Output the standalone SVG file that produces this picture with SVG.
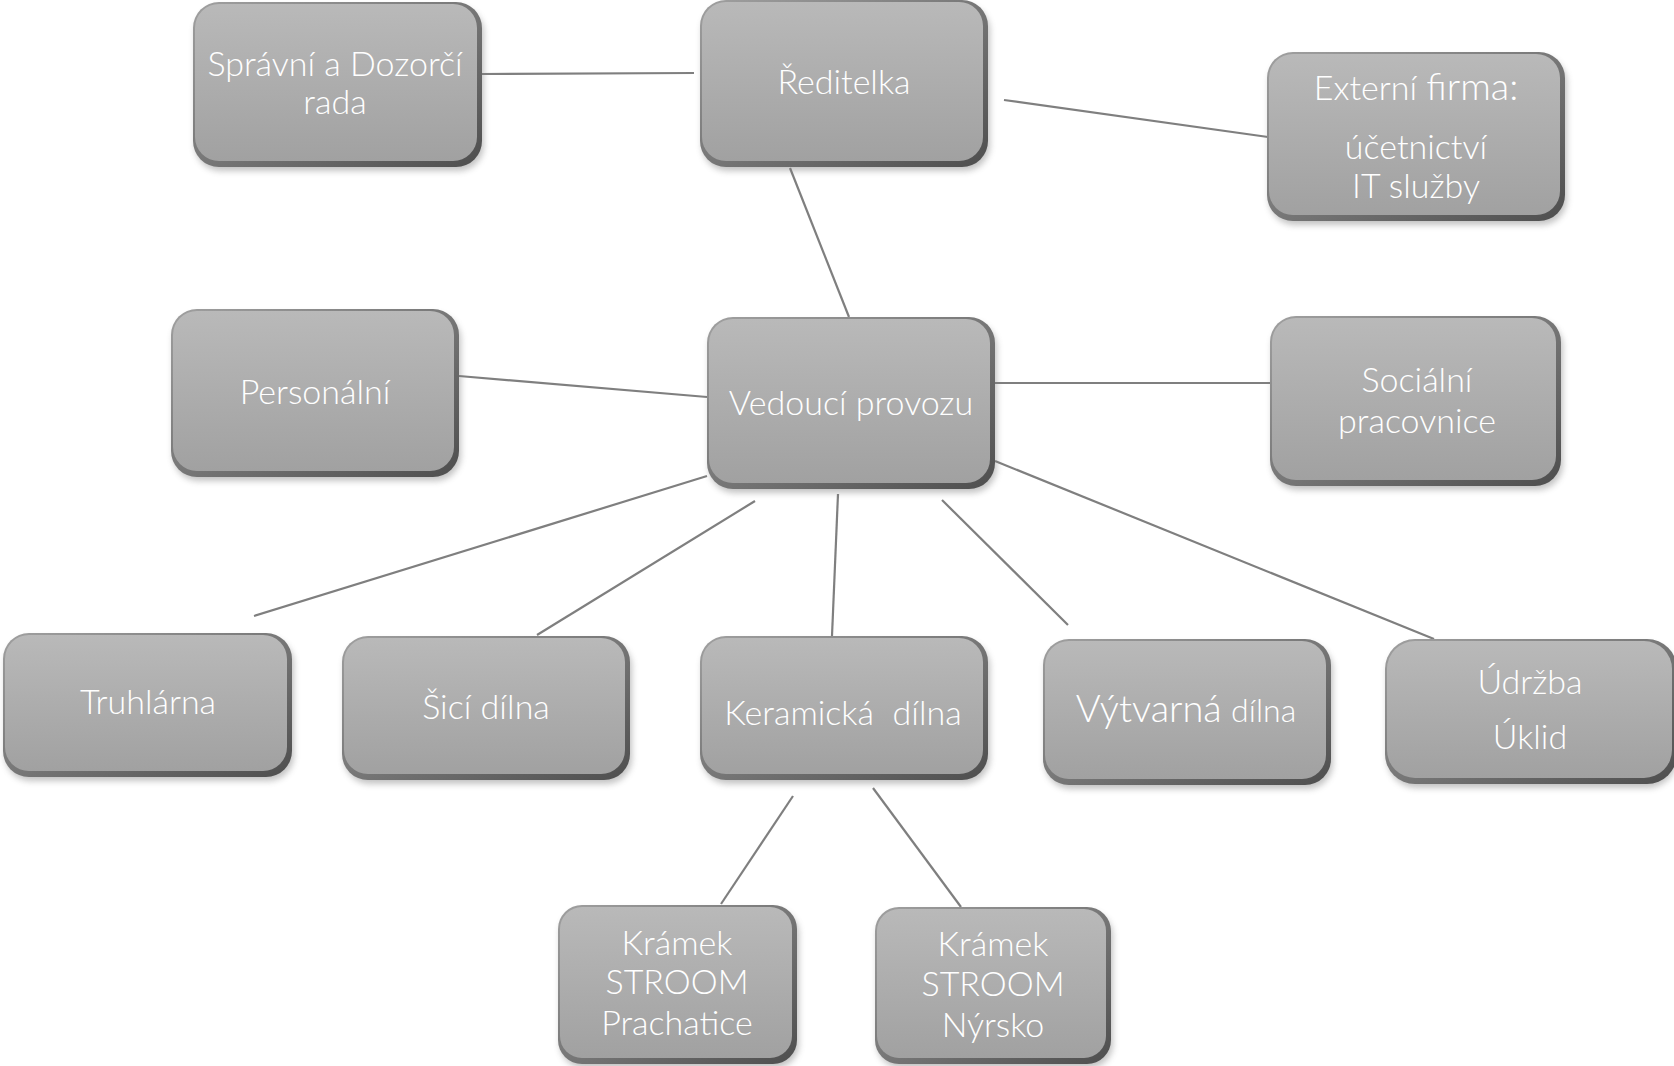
<svg xmlns="http://www.w3.org/2000/svg" width="1674" height="1066" viewBox="0 0 1674 1066">
<defs>
<linearGradient id="gFace" x1="0" y1="0" x2="0" y2="1">
<stop offset="0" stop-color="#b9b9b9"/>
<stop offset="1" stop-color="#a1a1a1"/>
</linearGradient>
<linearGradient id="gEdge" x1="0" y1="0" x2="1" y2="1">
<stop offset="0" stop-color="#a0a0a0"/>
<stop offset="1" stop-color="#4e4e4e"/>
</linearGradient>
<filter id="fSh" x="-10%" y="-10%" width="120%" height="130%"><feGaussianBlur stdDeviation="3"/></filter>
<filter id="fHl" x="-10%" y="-100%" width="120%" height="300%"><feGaussianBlur stdDeviation="1.2"/></filter>
</defs>
<style>
.sh{fill:#7a7a7a;opacity:.45;filter:url(#fSh)}
.edge{fill:url(#gEdge)}
.face{fill:url(#gFace)}
.hl{stroke:#ffffff;stroke-width:3;opacity:.75;fill:none;stroke-linecap:round;filter:url(#fHl)}
.t{fill:#ffffff;font-family:Lato,"Open Sans","DejaVu Sans",sans-serif;font-size:34px;font-weight:300;text-anchor:middle}
.c{stroke:#7f7f7f;stroke-width:2.2;fill:none}
</style>
<g id="connectors">
<line class="c" x1="482" y1="74" x2="694" y2="73"/>
<line class="c" x1="1004" y1="100" x2="1268" y2="137"/>
<line class="c" x1="790" y1="168" x2="849" y2="317"/>
<line class="c" x1="459" y1="376" x2="707" y2="397"/>
<line class="c" x1="995" y1="383" x2="1270" y2="383"/>
<line class="c" x1="707" y1="476" x2="254" y2="616"/>
<line class="c" x1="755" y1="501" x2="537" y2="635"/>
<line class="c" x1="838" y1="494" x2="832" y2="636"/>
<line class="c" x1="942" y1="500" x2="1068" y2="625"/>
<line class="c" x1="995" y1="461" x2="1434" y2="639"/>
<line class="c" x1="793" y1="796" x2="721" y2="904"/>
<line class="c" x1="873" y1="788" x2="961" y2="907"/>
</g>
<g id="n-sprava">
<rect class="sh" x="195" y="7" width="289" height="164" rx="26"/>
<rect class="edge" x="193" y="2" width="289" height="165" rx="26"/>
<rect class="face" x="195" y="4" width="282" height="157" rx="24"/>
<path class="hl" d="M218 12 H457"/>
<text class="t" x="335" y="76">Správní a Dozorčí</text>
<text class="t" x="335" y="114">rada</text>
</g>
<g id="n-reditelka">
<rect class="sh" x="702" y="5" width="288" height="166" rx="26"/>
<rect class="edge" x="700" y="0" width="288" height="167" rx="26"/>
<rect class="face" x="702" y="2" width="281" height="159" rx="24"/>
<path class="hl" d="M725 10 H963"/>
<text class="t" x="844" y="94">Ředitelka</text>
</g>
<g id="n-externi">
<rect class="sh" x="1269" y="57" width="298" height="168" rx="26"/>
<rect class="edge" x="1267" y="52" width="298" height="169" rx="26"/>
<rect class="face" x="1269" y="54" width="291" height="161" rx="24"/>
<path class="hl" d="M1292 62 H1540"/>
<text class="t" x="1416" y="100">Externí <tspan font-size="38">firma:</tspan></text>
<text class="t" x="1416" y="159">účetnictví</text>
<text class="t" x="1416" y="198">IT služby</text>
</g>
<g id="n-personalni">
<rect class="sh" x="173" y="314" width="288" height="167" rx="26"/>
<rect class="edge" x="171" y="309" width="288" height="168" rx="26"/>
<rect class="face" x="173" y="311" width="281" height="160" rx="24"/>
<path class="hl" d="M196 319 H434"/>
<text class="t" x="315" y="404">Personální</text>
</g>
<g id="n-vedouci">
<rect class="sh" x="709" y="322" width="288" height="171" rx="26"/>
<rect class="edge" x="707" y="317" width="288" height="172" rx="26"/>
<rect class="face" x="709" y="319" width="281" height="164" rx="24"/>
<path class="hl" d="M732 327 H970"/>
<text class="t" x="851" y="415">Vedoucí provozu</text>
</g>
<g id="n-socialni">
<rect class="sh" x="1272" y="321" width="291" height="169" rx="26"/>
<rect class="edge" x="1270" y="316" width="291" height="170" rx="26"/>
<rect class="face" x="1272" y="318" width="284" height="162" rx="24"/>
<path class="hl" d="M1295 326 H1536"/>
<text class="t" x="1417" y="392">Sociální</text>
<text class="t" x="1417" y="433">pracovnice</text>
</g>
<g id="n-truhlarna">
<rect class="sh" x="5" y="638" width="289" height="143" rx="26"/>
<rect class="edge" x="3" y="633" width="289" height="144" rx="26"/>
<rect class="face" x="5" y="635" width="282" height="136" rx="24"/>
<path class="hl" d="M28 643 H267"/>
<text class="t" x="148" y="714">Truhlárna</text>
</g>
<g id="n-sici">
<rect class="sh" x="344" y="641" width="288" height="143" rx="26"/>
<rect class="edge" x="342" y="636" width="288" height="144" rx="26"/>
<rect class="face" x="344" y="638" width="281" height="136" rx="24"/>
<path class="hl" d="M367 646 H605"/>
<text class="t" x="486" y="719">Šicí dílna</text>
</g>
<g id="n-keramicka">
<rect class="sh" x="702" y="641" width="288" height="143" rx="26"/>
<rect class="edge" x="700" y="636" width="288" height="144" rx="26"/>
<rect class="face" x="702" y="638" width="281" height="136" rx="24"/>
<path class="hl" d="M725 646 H963"/>
<text class="t" x="843" y="725" xml:space="preserve">Keramická  dílna</text>
</g>
<g id="n-vytvarna">
<rect class="sh" x="1045" y="644" width="288" height="145" rx="26"/>
<rect class="edge" x="1043" y="639" width="288" height="146" rx="26"/>
<rect class="face" x="1045" y="641" width="281" height="138" rx="24"/>
<path class="hl" d="M1068 649 H1306"/>
<text class="t" x="1186" y="722"><tspan font-size="38">Výtvarná</tspan> <tspan font-size="32">dílna</tspan></text>
</g>
<g id="n-udrzba">
<rect class="sh" x="1387" y="644" width="290" height="144" rx="30"/>
<rect class="edge" x="1385" y="639" width="292" height="145" rx="30"/>
<rect class="face" x="1387" y="641" width="285" height="137" rx="28"/>
<path class="hl" d="M1410 649 H1660"/>
<text class="t" x="1530" y="694">Údržba</text>
<text class="t" x="1530" y="749">Úklid</text>
</g>
<g id="n-prachatice">
<rect class="sh" x="560" y="910" width="239" height="158" rx="24"/>
<rect class="edge" x="558" y="905" width="239" height="159" rx="24"/>
<rect class="face" x="560" y="907" width="232" height="151" rx="22"/>
<path class="hl" d="M580 915 H776"/>
<text class="t" x="677" y="955">Krámek</text>
<text class="t" x="677" y="994">STROOM</text>
<text class="t" x="677" y="1035">Prachatice</text>
</g>
<g id="n-nyrsko">
<rect class="sh" x="877" y="912" width="236" height="156" rx="24"/>
<rect class="edge" x="875" y="907" width="236" height="157" rx="24"/>
<rect class="face" x="877" y="909" width="229" height="149" rx="22"/>
<path class="hl" d="M897 917 H1090"/>
<text class="t" x="993" y="956">Krámek</text>
<text class="t" x="993" y="996">STROOM</text>
<text class="t" x="993" y="1037">Nýrsko</text>
</g>
</svg>
